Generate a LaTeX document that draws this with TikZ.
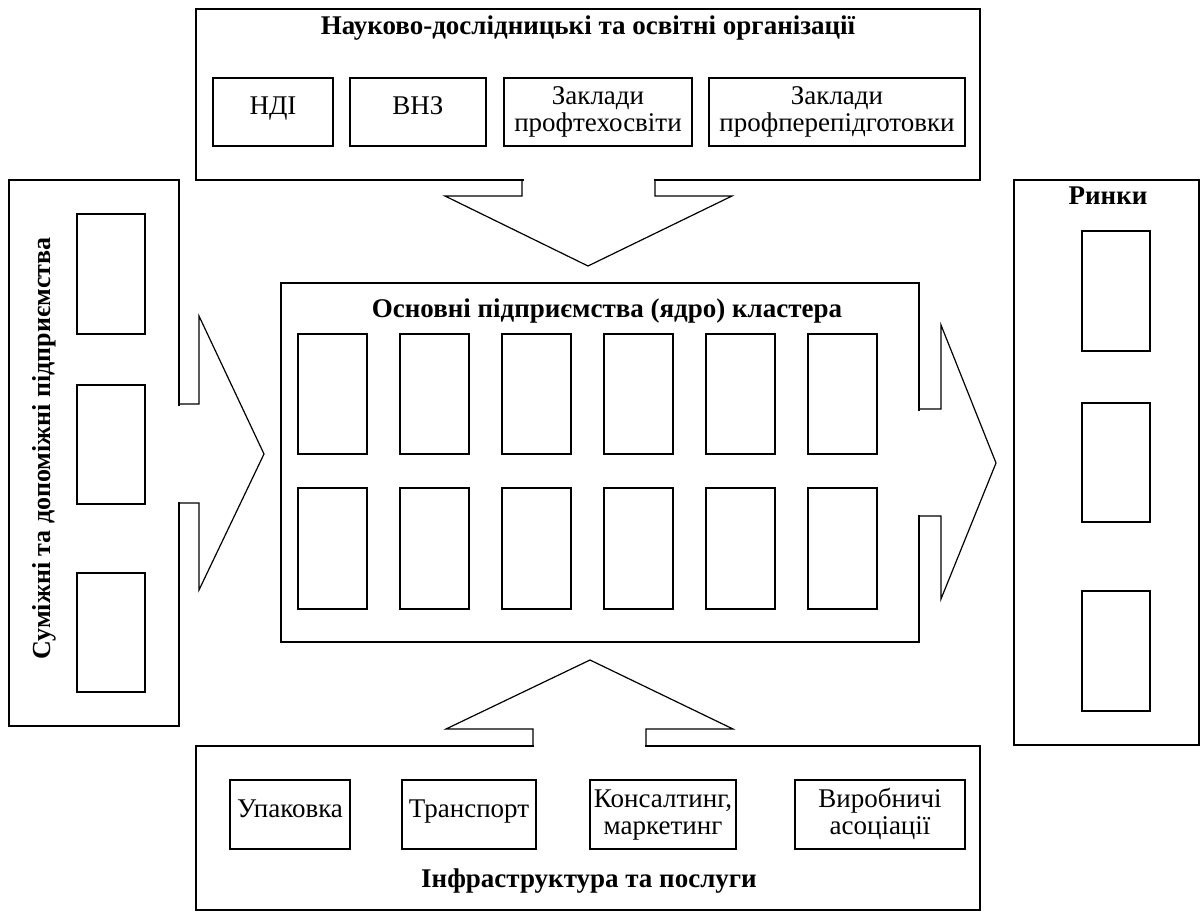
\documentclass[tikz,border=0pt]{standalone}
\usepackage{fontspec}
\setmainfont{Liberation Serif}
\usetikzlibrary{fit}
\tikzset{
  frame/.style={draw, line width=1.2pt, inner sep=0pt, outer sep=0pt},
  cell/.style={draw, line width=1.2pt, inner sep=0pt, outer sep=0pt, align=center,
    font=\fontsize{27}{27}\selectfont, text height=20pt, text depth=14pt},
  cell2/.style={cell, text height=44pt, text depth=4pt},
  ttl/.style={font=\bfseries\fontsize{27}{30}\selectfont, inner sep=0pt, anchor=base},
  blockarrow/.style={draw, line width=1.2pt, line join=miter},
  eraser/.style={fill=white},
}
\begin{document}
\begin{tikzpicture}[x=1pt,y=-1pt]
\useasboundingbox (0,0) rectangle (1200,912);
% ---------- containers ----------
\node[frame, fit={(196,9) (980,180)}] (org) {};
\node[frame, fit={(9,180) (179,726)}] (sup) {};
\node[frame, fit={(281,283) (919,642)}] (core) {};
\node[frame, fit={(1014,180) (1199,745)}] (mkt) {};
\node[frame, fit={(196,746) (980,910)}] (inf) {};
% ---------- titles ----------
\node[ttl] (orgT) at (588,35) {Науково-дослідницькі та освітні організації};
\node[ttl, font=\bfseries\fontsize{26}{30}\selectfont, rotate=90] (supT) at (50,448.5) {Суміжні та допоміжні підприємства};
\node[ttl] (coreT) at (607,317) {Основні підприємства (ядро) кластера};
\node[ttl] (mktT) at (1108,205) {Ринки};
\node[ttl] (infT) at (589,887) {Інфраструктура та послуги};
% ---------- top boxes ----------
\node[cell, minimum width=120, minimum height=68] (ndi) at (273,112) {НДІ};
\node[cell, minimum width=136, minimum height=68] (vnz) at (418,112) {ВНЗ};
\node[cell2, minimum width=188, minimum height=68] (pto) at (598,112) {Заклади\\профтехосвіти};
\node[cell2, minimum width=256, minimum height=68] (ppp) at (837,112) {Заклади\\профперепідготовки};
% ---------- bottom boxes ----------
\node[cell, minimum width=120, minimum height=69] (pack) at (290,814.5) {Упаковка};
\node[cell, minimum width=134, minimum height=69] (trans) at (469,814.5) {Транспорт};
\node[cell2, minimum width=146, minimum height=69] (cons) at (663,814.5) {Консалтинг,\\маркетинг};
\node[cell2, minimum width=170, minimum height=69] (assoc) at (880,814.5) {Виробничі\\асоціації};
% ---------- side boxes ----------
\node[cell, minimum width=68, minimum height=120] (s1) at (111,274) {};
\node[cell, minimum width=68, minimum height=119] (s2) at (111,444.5) {};
\node[cell, minimum width=68, minimum height=119] (s3) at (111,632.5) {};
\node[cell, minimum width=68, minimum height=120] (m1) at (1116,291) {};
\node[cell, minimum width=68, minimum height=119] (m2) at (1116,462.5) {};
\node[cell, minimum width=68, minimum height=120] (m3) at (1116,651) {};
% ---------- core boxes ----------
\foreach \i in {0,...,5}{
  \node[cell, minimum width=69, minimum height=120] (ca\i) at ({332.5+102*\i},394) {};
  \node[cell, minimum width=69, minimum height=121] (cb\i) at ({332.5+102*\i},548.5) {};
}
% ---------- block arrows ----------
% top (down)
\fill[eraser] (523.5,177) rectangle (653.5,183);
\draw[blockarrow] (522,180) -- (522,196) -- (445,196) -- (588,266) -- (732,196) -- (655,196) -- (655,180);
% left (right)
\fill[eraser] (176,405.5) rectangle (182,501.5);
\draw[blockarrow] (179,404) -- (199,404) -- (199,316) -- (264,454) -- (199,590) -- (199,503) -- (179,503);
% right (right)
\fill[eraser] (916,410.5) rectangle (922,514.5);
\draw[blockarrow] (919,409) -- (941,409) -- (941,325) -- (996,463) -- (941,599) -- (941,516) -- (919,516);
% bottom (up)
\fill[eraser] (534,743) rectangle (645,749);
\draw[blockarrow] (533,746) -- (533,729) -- (446,729) -- (590,660) -- (733,729) -- (646,729) -- (646,746);
\end{tikzpicture}
\end{document}
